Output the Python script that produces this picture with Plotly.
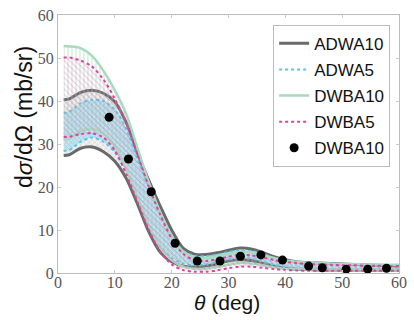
import plotly.graph_objects as go

theta = [1, 2, 4, 6, 8, 10, 12, 14, 16, 18, 20, 22, 24, 26, 28, 30, 32, 34, 36, 38, 40,
         42, 44, 46, 48, 50, 52, 54, 56, 58, 60]

adwa10_hi = [40.3, 40.5, 42.0, 42.5, 41.8, 39.8, 35.0, 27.8, 21.5, 15.5, 10.0, 5.8, 4.4, 4.3, 4.7,
             5.3, 5.8, 5.6, 4.8, 3.8, 3.1, 2.6, 2.4, 2.3, 2.2, 2.1, 2.0, 1.9, 1.8, 1.7, 1.6]
adwa10_lo = [27.3, 27.5, 29.0, 29.3, 28.2, 26.0, 22.0, 16.0, 9.5, 4.8, 2.6, 1.6, 1.4, 1.6, 2.1,
             2.8, 3.1, 2.9, 2.3, 1.6, 1.1, 0.9, 0.8, 0.7, 0.7, 0.7, 0.7, 0.7, 0.7, 0.7, 0.7]

adwa5_hi = [37.2, 37.5, 39.5, 40.3, 40.0, 38.0, 33.5, 26.5, 20.0, 14.0, 8.8, 5.2, 4.0, 3.9, 4.3,
            4.9, 5.3, 5.1, 4.4, 3.5, 2.8, 2.3, 2.1, 2.0, 1.9, 1.9, 1.8, 1.7, 1.6, 1.6, 1.5]
adwa5_lo = [28.4, 28.6, 30.5, 31.5, 30.5, 28.0, 23.5, 17.5, 11.0, 6.2, 3.5, 2.2, 1.8, 2.0, 2.5,
            3.1, 3.5, 3.3, 2.6, 1.9, 1.4, 1.1, 1.0, 1.0, 0.9, 0.9, 0.9, 0.9, 0.9, 0.9, 0.9]

dwba10_hi = [52.8, 52.7, 52.3, 50.5, 47.0, 42.5, 37.0, 29.0, 21.0, 14.0, 8.5, 5.0, 3.6, 3.5, 3.9,
             4.5, 4.9, 4.8, 4.2, 3.5, 2.9, 2.6, 2.4, 2.3, 2.2, 2.1, 2.1, 2.0, 2.0, 1.9, 1.9]
dwba10_lo = [31.0, 31.2, 33.0, 33.5, 32.5, 29.5, 24.0, 17.5, 11.0, 6.0, 3.0, 1.5, 1.0, 1.0, 1.4,
             1.9, 2.3, 2.2, 1.8, 1.3, 1.0, 0.9, 0.8, 0.8, 0.8, 0.8, 0.8, 0.8, 0.8, 0.8, 0.8]

dwba5_hi = [50.1, 50.1, 49.4, 48.0, 45.0, 40.5, 35.0, 27.5, 20.0, 13.5, 8.0, 4.5, 3.0, 2.8, 3.2,
            3.8, 4.2, 4.1, 3.6, 3.0, 2.6, 2.3, 2.1, 2.0, 1.9, 1.8, 1.8, 1.7, 1.7, 1.6, 1.6]
dwba5_lo = [31.6, 31.7, 32.3, 32.5, 31.5, 28.5, 23.0, 16.5, 10.0, 5.0, 2.0, 0.7, 0.3, 0.3, 0.6,
            1.1, 1.5, 1.5, 1.2, 0.9, 0.7, 0.6, 0.5, 0.5, 0.5, 0.5, 0.5, 0.5, 0.5, 0.5, 0.5]

data_theta = [9.0, 12.4, 16.4, 20.6, 24.5, 28.5, 32.1, 35.7, 39.5, 44.1, 46.5, 50.7, 54.5, 57.8]
data_xs = [36.2, 26.5, 18.9, 6.9, 2.8, 2.8, 3.9, 4.2, 3.0, 1.6, 1.2, 0.9, 0.9, 1.1]
data_err = [0.3, 0.3, 0.3, 0.2, 0.1, 0.1, 0.1, 0.1, 0.1, 0.05, 0.05, 0.05, 0.05, 0.05]

fig = go.Figure()

bands = [
    ("ADWA10", adwa10_lo, adwa10_hi, dict(color="#6a6a6a", width=3, dash="solid"),
     dict(shape="x", fgcolor="rgba(140,140,140,0.7)", bgcolor="rgba(228,228,228,0.5)", size=4, solidity=0.25)),
    ("ADWA5", adwa5_lo, adwa5_hi, dict(color="#5ec2e8", width=2, dash="dot"),
     dict(shape="x", fgcolor="rgba(70,185,230,0.9)", bgcolor="rgba(160,218,240,0.45)", size=3, solidity=0.35)),
    ("DWBA10", dwba10_lo, dwba10_hi, dict(color="#a9d9bf", width=2.5, dash="solid"),
     dict(shape="|", fgcolor="rgba(140,210,175,0.95)", bgcolor="rgba(0,0,0,0)", size=4, solidity=0.3)),
    ("DWBA5", dwba5_lo, dwba5_hi, dict(color="#e0409e", width=2, dash="dot"),
     dict(shape="\\", fgcolor="rgba(230,90,170,0.75)", bgcolor="rgba(0,0,0,0)", size=4, solidity=0.25)),
]

for i, (name, lo, hi, line, pat) in enumerate(bands):
    fig.add_trace(go.Scatter(x=theta, y=lo, mode="lines", line=dict(line, shape="spline", smoothing=0.8),
                             name=name, legendgroup=name, showlegend=True))
    fig.add_trace(go.Scatter(x=theta, y=hi, mode="lines", line=dict(line, shape="spline", smoothing=0.8),
                             fill="tonexty", fillpattern=pat, fillcolor=pat["bgcolor"],
                             name=name, legendgroup=name, showlegend=False))

fig.add_trace(go.Scatter(x=data_theta, y=data_xs, mode="markers", name="DWBA10",
                         legendgroup="data",
                         marker=dict(color="black", size=9),
                         error_y=dict(type="data", array=data_err, color="#bbbbbb", thickness=1, width=0)))

axis_common = dict(showline=True, linecolor="#bdbdbd", linewidth=1, mirror="allticks",
                   ticks="inside", ticklen=3, tickcolor="#cccccc", showgrid=False, zeroline=False,
                   tickfont=dict(family="Liberation Serif", size=16, color="#555555"))

fig.update_xaxes(range=[0, 60], tickvals=[0, 10, 20, 30, 40, 50, 60], ticklabelstandoff=-5, **axis_common)
fig.update_yaxes(range=[0, 60], tickvals=[0, 10, 20, 30, 40, 50, 60], **axis_common)

fig.update_layout(
    width=414, height=320,
    margin=dict(l=58, r=7, t=13, b=47),
    plot_bgcolor="white", paper_bgcolor="white",
    legend=dict(x=0.974, y=0.962, xanchor="right", yanchor="top",
                bordercolor="#bbbbbb", borderwidth=1, bgcolor="white",
                font=dict(family="Liberation Sans", size=17, color="#111111"),
                itemwidth=30, traceorder="grouped", tracegroupgap=1),
    annotations=[
        dict(text="d<i>σ</i>/dΩ (mb/sr)", xref="paper", yref="paper", x=-0.1, y=(273 - 116) / 260,
             textangle=-90, showarrow=False, font=dict(family="Liberation Sans", size=23, color="#111111"),
             xanchor="center", yanchor="middle"),
        dict(text="<i>θ</i> (deg)", xref="paper", yref="paper", x=0.495, y=(273 - 303) / 260,
             showarrow=False, font=dict(family="Liberation Sans", size=21, color="#111111"),
             xanchor="center", yanchor="middle"),
    ],
)

fig.write_html("out.html")
